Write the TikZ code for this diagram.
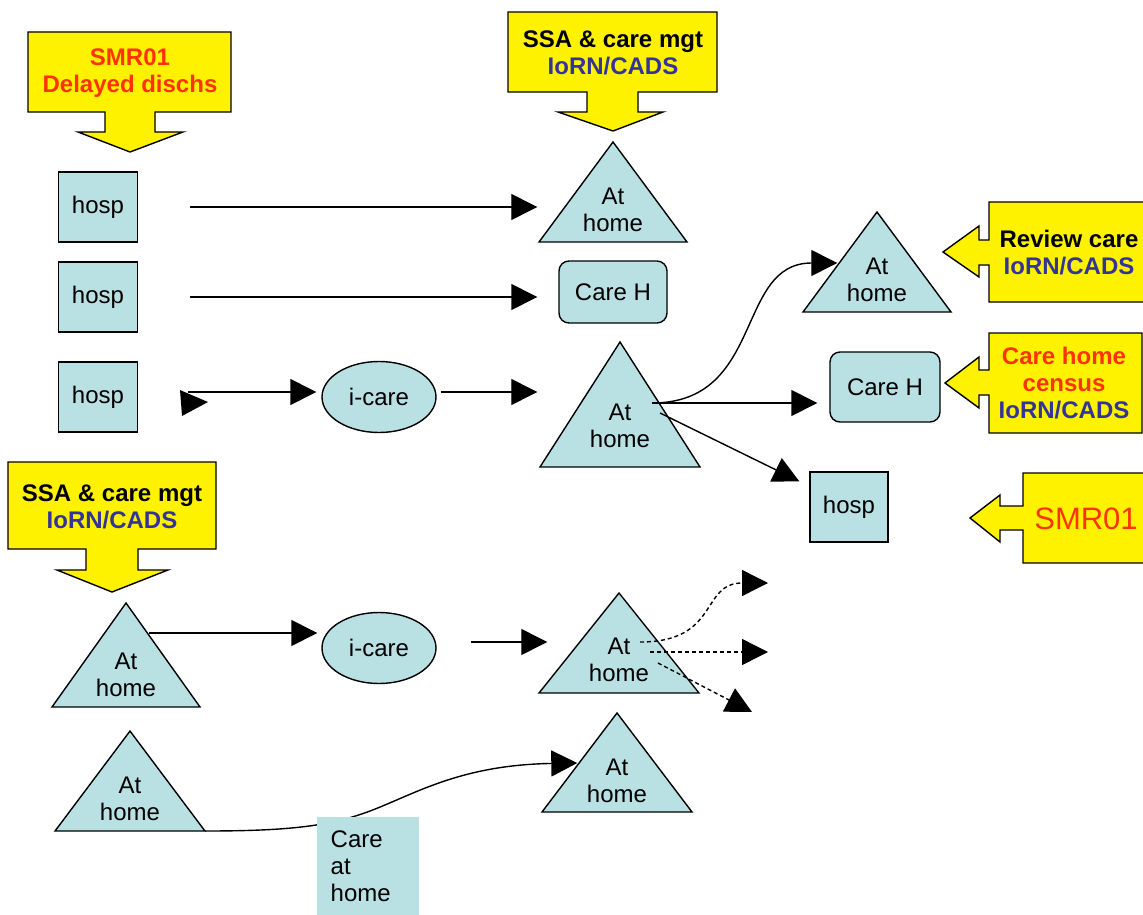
\documentclass[tikz,border=0pt]{standalone}
\usepackage{fontspec}
\setmainfont{Liberation Sans}
\usepackage{xcolor}
\usetikzlibrary{arrows.meta,shapes.geometric}

\definecolor{paleblue}{HTML}{B9E0E3}
\definecolor{srcred}{HTML}{FF3300}
\definecolor{srcblue}{HTML}{333399}

\tikzset{
  hosp/.style={draw,fill=paleblue,minimum width=79pt,minimum height=70pt,inner sep=0pt},
  careh/.style={draw,fill=paleblue,rounded corners=10pt,minimum width=108pt,minimum height=62pt,inner sep=0pt},
  icare/.style={draw,fill=paleblue,ellipse,minimum width=114pt,minimum height=71pt,inner sep=0pt},
  hometext/.style={align=center,inner sep=0pt},
  callout/.style={draw,fill=yellow},
  calltext/.style={align=center,inner sep=0pt,font=\fontsize{24}{27}\selectfont\bfseries},
  dots/.style={dash pattern=on 4pt off 3pt}
}

% triangle "At home": name, apex x, apex y, half width, height, text y
\newcommand{\athome}[6]{%
  \draw[fill=paleblue] (#2,#3) coordinate (#1-a) -- ++(#4,#5) coordinate (#1-r)
    -- ++(-2*#4,0) coordinate (#1-l) -- cycle;
  \node[hometext] (#1) at (#2,#6) {At\\home};
}

\begin{document}
\begin{tikzpicture}[x=1pt,y=-1pt,line width=1.4pt,
    font=\fontsize{24}{27}\selectfont,
    >={Triangle[length=26pt,width=26pt]}]
  \useasboundingbox (0,0) rectangle (1143,915);

  % callouts
  \draw[callout] (28,32) -- (231,32) -- (231,112) -- (155,112) -- (155,132) -- (183,132)
    -- (130,152) -- (78,132) -- (105,132) -- (105,112) -- (28,112) -- cycle;
  \node[calltext,text=srcred] (srcA) at (130,73) {SMR01\\Delayed dischs};
  \draw[callout] (508,12) -- (717,12) -- (717,92) -- (638,92) -- (638,112) -- (663,112)
    -- (613,131) -- (558,112) -- (587,112) -- (587,92) -- (508,92) -- cycle;
  \node[calltext] (srcB) at (613,53) {SSA \& care mgt\\\textcolor{srcblue}{IoRN/CADS}};
  \draw[callout] (8,462) -- (216,462) -- (216,549) -- (138,549) -- (138,570) -- (168,570)
    -- (112,592) -- (57,570) -- (86,570) -- (86,549) -- (8,549) -- cycle;
  \node[calltext] (srcC) at (112,507) {SSA \& care mgt\\\textcolor{srcblue}{IoRN/CADS}};
  \draw[callout] (1148,202) -- (989,202) -- (989,240) -- (979,240) -- (979,226) -- (943,252)
    -- (979,277) -- (979,265) -- (989,265) -- (989,302) -- (1148,302) -- cycle;
  \node[calltext] (srcD) at (1069,253) {Review care\\\textcolor{srcblue}{IoRN/CADS}};
  \draw[callout] (1142,333) -- (989,333) -- (989,370) -- (979,370) -- (979,357) -- (945,383)
    -- (979,408) -- (979,395) -- (989,395) -- (989,433) -- (1142,433) -- cycle;
  \node[calltext,text=srcred] (srcE) at (1064,383) {Care home\\census\\\textcolor{srcblue}{IoRN/CADS}};
  \draw[callout] (1148,473) -- (1023,473) -- (1023,506) -- (1000,506) -- (1000,495) -- (970,518)
    -- (1000,542) -- (1000,530) -- (1023,530) -- (1023,563) -- (1148,563) -- cycle;
  \node[inner sep=0pt,text=srcred,font=\fontsize{31}{36}\selectfont] (srcF) at (1086,519) {SMR01};

  % boxes
  \node[hosp] (hosp1) at (98,207) {hosp};
  \node[hosp] (hosp2) at (98,297) {hosp};
  \node[hosp] (hosp3) at (98,397) {hosp};
  \node[hosp,minimum width=78pt] (hosp4) at (849,507) {hosp};
  \node[careh] (careh1) at (613,292) {Care H};
  \node[careh,minimum width=110pt,minimum height=70pt] (careh2) at (885,387) {Care H};
  \node[icare] (icare1) at (379,397) {i-care};
  \node[icare] (icare2) at (379,648) {i-care};

  \athome{t1}{613}{142}{74}{100}{210}
  \athome{t2}{620}{342}{80}{125}{426}
  \athome{t3}{877}{212}{74}{100}{280}
  \athome{b1}{126}{603}{74}{104}{675}
  \athome{b2}{619}{593}{80}{100}{660}
  \athome{b3}{130}{731}{75}{100}{799}
  \athome{b4}{617}{713}{75}{99}{781}

  \coordinate (t2s) at (652,403);
  \coordinate (t2d) at (660,413);
  \coordinate (b1s) at (149,633);
  \coordinate (b2s1) at (640,642);
  \coordinate (b2s2) at (650,652);
  \coordinate (b2s3) at (658,663);
  \coordinate (e1) at (768,583);
  \coordinate (e2) at (768,652);
  \coordinate (e3) at (752,712);

  % connectors
  \draw[->,shorten <=51.5pt,shorten >=45pt] (hosp1.east) -- (hosp1.east -| t1.west);
  \draw[->,shorten <=51.5pt,shorten >=21pt] (hosp2.east) -- (hosp2.east -| careh1.west);
  \fill (180,390) -- (208,402) -- (182,416) -- cycle;
  \draw[->,shorten <=50pt,shorten >=5pt] ([yshift=5pt]hosp3.east) -- ([yshift=5pt]icare1.west);
  \draw[->,shorten <=4pt,shorten >=52pt] ([yshift=5pt]icare1.east) -- ([yshift=5pt]icare1.east -| t2.west);
  \draw[->] (t2s) .. controls (765,403) and (735,263) .. ([xshift=-9pt,yshift=17pt]t3.west);
  \draw[->,shorten >=12pt] (t2s) -- (t2s -| careh2.west);
  \draw[->] (t2d) -- ([xshift=-10pt,yshift=-10pt]hosp4.north west);
  \draw[->,shorten >=4pt] (b1s) -- (b1s -| icare2.west);
  \draw[->,shorten <=34pt,shorten >=41pt] ([yshift=6pt]icare2.east) -- ([yshift=6pt]icare2.east -| b2.west);
  \draw[->,dots] (b2s1) .. controls (720,642) and (700,583) .. (e1);
  \draw[->,dots] (b2s2) -- (e2);
  \draw[->,dots] (b2s3) -- (e3);
  \draw[->] (b3-r) .. controls (290,831) and (330,826) .. (370,811)
    .. controls (415,794) and (460,765) .. ([xshift=-9pt,yshift=18pt]b4.west);

  \node[fill=paleblue,anchor=north west,text width=74pt,inner xsep=14pt,inner ysep=10pt,
    minimum height=100pt,align=left] (cah) at (316,816) {Care\\at\\home};
\end{tikzpicture}
\end{document}
